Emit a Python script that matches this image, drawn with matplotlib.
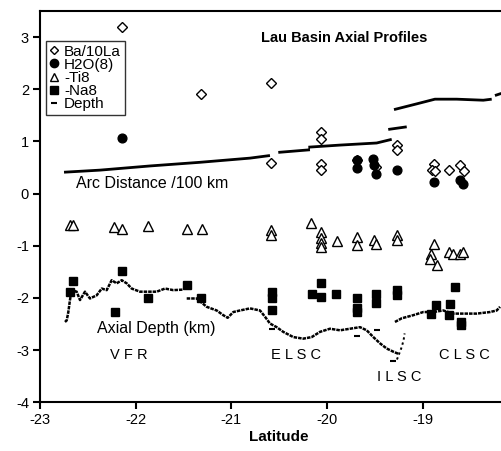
import numpy as np
import matplotlib
matplotlib.use("Agg")
import matplotlib.pyplot as plt
from matplotlib.lines import Line2D

plt.rcParams['font.family'] = ['Liberation Sans', 'DejaVu Sans']
plt.rcParams['axes.unicode_minus'] = False

# ---- data ----
ba_lat = [-22.14, -21.32, -20.59, -20.59, -20.06, -20.06, -20.06, -20.06, -19.69, -19.49,
          -19.27, -19.27, -18.88, -18.90, -18.87, -18.73, -18.61, -18.57]
ba_val = [3.19, 1.91, 2.12, 0.59, 1.19, 1.05, 0.56, 0.45, 0.64, 0.51,
          0.94, 0.84, 0.57, 0.46, 0.43, 0.46, 0.54, 0.43]

h2o_lat = [-22.14, -19.69, -19.69, -19.52, -19.51, -19.49, -19.27, -18.88, -18.61, -18.58]
h2o_val = [1.07, 0.64, 0.50, 0.67, 0.55, 0.38, 0.45, 0.22, 0.27, 0.18]

ti_lat = [-22.69, -22.65, -22.23, -22.14, -21.87, -21.46, -21.31,
          -20.59, -20.59, -20.17, -20.06, -20.06, -20.06, -20.06, -19.90,
          -19.69, -19.69, -19.51, -19.49, -19.27, -19.27,
          -18.88, -18.91, -18.92, -18.85, -18.73, -18.68, -18.61, -18.58]
ti_val = [-0.61, -0.61, -0.64, -0.67, -0.63, -0.67, -0.67,
          -0.70, -0.80, -0.56, -0.74, -0.85, -0.95, -1.02, -0.91,
          -0.84, -0.99, -0.89, -0.96, -0.80, -0.88,
          -0.96, -1.15, -1.25, -1.37, -1.12, -1.15, -1.15, -1.12]

na_lat = [-22.66, -22.69, -22.14, -22.22, -21.87, -21.46, -21.32,
          -20.58, -20.58, -20.58, -20.16, -20.06, -20.06, -19.91,
          -19.69, -19.69, -19.69, -19.49, -19.49, -19.27, -19.27,
          -18.66, -18.86, -18.91, -18.72, -18.73, -18.60, -18.60]
na_val = [-1.67, -1.89, -1.48, -2.27, -2.01, -1.76, -2.01,
          -1.88, -2.00, -2.24, -1.93, -1.72, -1.98, -1.92,
          -2.01, -2.20, -2.27, -1.92, -2.10, -1.85, -1.95,
          -1.79, -2.14, -2.30, -2.11, -2.33, -2.46, -2.52]

depth_lat = [-22.739, -22.721, -22.704, -22.687, -22.669, -22.617, -22.582, -22.530, -22.478,
             -22.408, -22.355, -22.303, -22.251, -22.199, -22.146, -22.094, -22.042, -21.955,
             -21.868, -21.781, -21.694, -21.607, -21.503, np.nan,
             -21.467, -21.363, -21.258, -21.154, -21.085, -21.039, -20.980, -20.910, -20.806,
             -20.701, -20.649, -20.597, -20.527, -20.458, -20.353, -20.249, -20.161, -20.074,
             -19.970, -19.865, -19.761, -19.656, -19.586, -19.517, -19.447, -19.377, -19.308,
             -19.256, np.nan,
             -19.291, -19.220, -19.099, -18.995, -18.890, -18.786, -18.681, -18.577, -18.437,
             -18.298, -18.228, -18.193]
depth_val = [-2.46, -2.43, -2.27, -2.04, -1.85, -1.88, -2.04, -1.88, -2.01,
             -1.95, -1.82, -1.85, -1.66, -1.72, -1.66, -1.72, -1.82, -1.88,
             -1.88, -1.88, -1.82, -1.85, -1.84, np.nan,
             -2.01, -2.01, -2.17, -2.24, -2.33, -2.38, -2.27, -2.24, -2.20,
             -2.24, -2.36, -2.49, -2.56, -2.65, -2.75, -2.78, -2.75, -2.65,
             -2.59, -2.62, -2.59, -2.56, -2.62, -2.75, -2.87, -2.97, -3.03,
             -3.07, np.nan,
             -2.46, -2.39, -2.33, -2.27, -2.27, -2.24, -2.30, -2.30, -2.30,
             -2.27, -2.24, -2.17]
ilsc_lat = [-19.27, -19.22, -19.20, -19.19]
ilsc_val = [-3.18, -2.94, -2.80, -2.68]
dash_lat = [-20.58, -19.69, -19.48, -19.31]
dash_val = [-2.60, -2.73, -2.62, -3.20]

arc_lat = [-22.749, -22.373, -21.851, -21.328, -20.806, -20.597, np.nan,
           -20.510, -20.179, np.nan,
           -20.196, -19.865, -19.482, -19.325, np.nan,
           -19.361, -19.168, np.nan,
           -19.301, -19.064, -18.873, -18.646, -18.368, -18.280, np.nan,
           -18.246, -18.18]
arc_val = [0.41, 0.45, 0.53, 0.60, 0.68, 0.73, np.nan,
           0.79, 0.84, np.nan,
           0.89, 0.93, 0.97, 1.04, np.nan,
           1.23, 1.28, np.nan,
           1.61, 1.72, 1.81, 1.81, 1.79, 1.81, np.nan,
           1.88, 1.92]

x_ticks = [-23, -22, -21, -20, -19]
y_ticks = [-4, -3, -2, -1, 0, 1, 2, 3]

# ---- figure ----
fig = plt.figure(figsize=(5.01, 4.51), dpi=100)
ax = fig.add_axes([40 / 501, 48.7 / 451, 478.5 / 501, 391.3 / 451])

ax.plot(arc_lat, arc_val, color='black', lw=2.0, solid_capstyle='butt')
ax.plot(depth_lat, depth_val, color='black', lw=1.8, linestyle=(0, (1.4, 0.4)))
ax.plot(ilsc_lat, ilsc_val, color='black', lw=1.4, linestyle=(0, (1.2, 1.5)))
ax.plot(dash_lat, dash_val, linestyle='none', marker='_', ms=5, mew=1.5, color='black')

ax.plot(ba_lat, ba_val, linestyle='none', marker='D', ms=5, mfc='white', mec='black', mew=1.0)
ax.plot(h2o_lat, h2o_val, linestyle='none', marker='o', ms=6.3, mfc='black', mec='black')
ax.plot(ti_lat, ti_val, linestyle='none', marker='^', ms=6.5, mfc='white', mec='black', mew=1.0)
ax.plot(na_lat, na_val, linestyle='none', marker='s', ms=6.0, mfc='black', mec='black')

ax.set_xlim(-23, -18)
ax.set_ylim(-4, 3.5)
ax.set_xticks(x_ticks)
ax.set_yticks(y_ticks)
ax.tick_params(direction='out', length=5, width=1.5, labelsize=10.5, pad=3)
for s in ['left', 'bottom', 'top']:
    ax.spines[s].set_linewidth(1.5)
ax.spines['right'].set_visible(False)

ax.set_xlabel('Latitude', fontsize=11, fontweight='bold', labelpad=2)

ax.text(-19.82, 2.99, 'Lau Basin Axial Profiles', fontsize=10.5, fontweight='bold',
        ha='center', va='center')
ax.text(-22.62, 0.20, 'Arc Distance /100 km', fontsize=11.5, ha='left', va='center')
ax.text(-22.40, -2.59, 'Axial Depth (km)', fontsize=11.5, ha='left', va='center')
ax.text(-22.07, -3.10, 'V F R', fontsize=10.5, ha='center', va='center')
ax.text(-20.325, -3.10, 'E L S C', fontsize=10.5, ha='center', va='center')
ax.text(-19.25, -3.51, 'I L S C', fontsize=10.5, ha='center', va='center')
ax.text(-18.57, -3.10, 'C L S C', fontsize=10.5, ha='center', va='center')

handles = [
    Line2D([], [], linestyle='none', marker='D', ms=4.5, mfc='white', mec='black', mew=1.0),
    Line2D([], [], linestyle='none', marker='o', ms=6, mfc='black', mec='black'),
    Line2D([], [], linestyle='none', marker='^', ms=6, mfc='white', mec='black', mew=1.0),
    Line2D([], [], linestyle='none', marker='s', ms=5.5, mfc='black', mec='black'),
    Line2D([], [], linestyle='none', marker='_', ms=5, mew=1.5, color='black'),
]
labels = ['Ba/10La', 'H2O(8)', '-Ti8', '-Na8', 'Depth']
leg = ax.legend(handles, labels, loc='upper left', bbox_to_anchor=(5.7 / 478.5, 1 - 29.7 / 391.3),
                fontsize=11, frameon=True, fancybox=False, edgecolor='black',
                handlelength=0.6, handletextpad=0.35, borderpad=0.25, labelspacing=-0.05,
                borderaxespad=0)
leg.get_frame().set_linewidth(1.0)

fig.savefig('out.png', dpi=100)
